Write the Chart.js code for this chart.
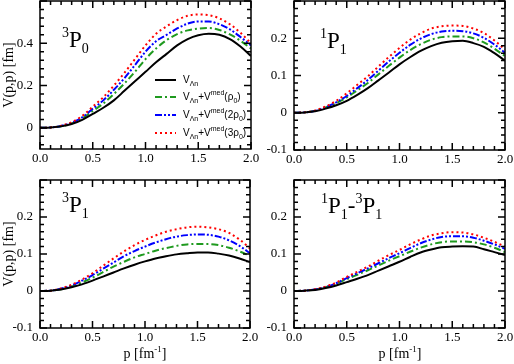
<!DOCTYPE html>
<html>
<head>
<meta charset="utf-8">
<script src="https://cdn.jsdelivr.net/npm/chart.js@4.4.1/dist/chart.umd.min.js"></script>
<style>
  body { margin: 0; background: #fff; }
  #wrap { position: relative; width: 514px; height: 364px; }
  #wrap canvas { position: absolute; left: 0; top: 0; }
</style>
</head>
<body>
<div id="wrap">
  <canvas id="c30" width="514" height="364"></canvas>
  <canvas id="c11" width="514" height="364"></canvas>
  <canvas id="c31" width="514" height="364"></canvas>
  <canvas id="c13" width="514" height="364"></canvas>
</div>
<script>
// momentum grid p [fm^-1]
const P = [0, 0.1, 0.2, 0.3, 0.4, 0.5, 0.6, 0.7, 0.8, 0.9, 1.0, 1.1, 1.2, 1.3, 1.4, 1.5, 1.6, 1.7, 1.8, 1.9, 2.0];
const X_TICKS = [0, 0.5, 1.0, 1.5, 2.0];

// 3P0
const P30_free = [0, 0.002, 0.007, 0.018, 0.038, 0.066, 0.095, 0.13, 0.175, 0.22, 0.265, 0.31, 0.35, 0.39, 0.42, 0.438, 0.445, 0.44, 0.42, 0.385, 0.34];
const P30_rho1 = [0, 0.002, 0.008, 0.021, 0.045, 0.08, 0.115, 0.16, 0.21, 0.265, 0.325, 0.375, 0.415, 0.443, 0.461, 0.469, 0.472, 0.463, 0.442, 0.412, 0.375];
const P30_rho2 = [0, 0.002, 0.009, 0.024, 0.05, 0.09, 0.13, 0.18, 0.235, 0.297, 0.36, 0.41, 0.44, 0.47, 0.493, 0.503, 0.503, 0.49, 0.466, 0.43, 0.39];
const P30_rho3 = [0, 0.002, 0.01, 0.027, 0.056, 0.1, 0.145, 0.2, 0.26, 0.325, 0.39, 0.445, 0.48, 0.51, 0.53, 0.536, 0.533, 0.518, 0.49, 0.45, 0.40];
const Y_TICKS_30 = [0, 0.2, 0.4];

// 1P1
const P11_free = [0, 0.001, 0.004, 0.011, 0.02, 0.032, 0.048, 0.066, 0.087, 0.108, 0.13, 0.149, 0.166, 0.179, 0.188, 0.192, 0.193, 0.187, 0.177, 0.16, 0.14];
const P11_rho1 = [0, 0.001, 0.005, 0.014, 0.026, 0.041, 0.06, 0.08, 0.103, 0.126, 0.148, 0.168, 0.184, 0.196, 0.203, 0.205, 0.205, 0.2, 0.189, 0.172, 0.152];
const P11_rho2 = [0, 0.001, 0.005, 0.015, 0.028, 0.045, 0.066, 0.088, 0.113, 0.138, 0.161, 0.182, 0.199, 0.211, 0.218, 0.22, 0.219, 0.213, 0.201, 0.183, 0.161];
const P11_rho3 = [0, 0.001, 0.006, 0.017, 0.032, 0.052, 0.075, 0.098, 0.124, 0.15, 0.174, 0.196, 0.213, 0.226, 0.232, 0.234, 0.233, 0.226, 0.214, 0.194, 0.17];
const Y_TICKS_11 = [-0.1, 0, 0.1, 0.2];

// 3P1
const P31_free = [0, 0.001, 0.004, 0.01, 0.018, 0.028, 0.039, 0.05, 0.061, 0.071, 0.08, 0.088, 0.094, 0.099, 0.102, 0.104, 0.104, 0.101, 0.096, 0.088, 0.078];
const P31_rho1 = [0, 0.001, 0.005, 0.012, 0.023, 0.036, 0.051, 0.066, 0.079, 0.091, 0.1, 0.109, 0.116, 0.122, 0.126, 0.127, 0.127, 0.124, 0.117, 0.107, 0.095];
const P31_rho2 = [0, 0.001, 0.006, 0.015, 0.028, 0.043, 0.06, 0.077, 0.094, 0.108, 0.12, 0.131, 0.14, 0.147, 0.151, 0.153, 0.152, 0.147, 0.137, 0.122, 0.102];
const P31_rho3 = [0, 0.001, 0.007, 0.017, 0.031, 0.048, 0.068, 0.088, 0.107, 0.124, 0.138, 0.15, 0.16, 0.167, 0.172, 0.174, 0.172, 0.167, 0.157, 0.139, 0.115];
const Y_TICKS_31 = [-0.1, 0, 0.1, 0.2];

// 1P1-3P1
const P13_free = [0, 0.001, 0.003, 0.008, 0.015, 0.024, 0.033, 0.043, 0.055, 0.067, 0.079, 0.092, 0.104, 0.112, 0.118, 0.12, 0.121, 0.12, 0.113, 0.105, 0.097];
const P13_rho1 = [0, 0.001, 0.004, 0.01, 0.02, 0.032, 0.044, 0.056, 0.069, 0.082, 0.094, 0.106, 0.117, 0.126, 0.132, 0.134, 0.134, 0.132, 0.126, 0.117, 0.105];
const P13_rho2 = [0, 0.001, 0.004, 0.011, 0.021, 0.035, 0.048, 0.061, 0.075, 0.089, 0.102, 0.116, 0.129, 0.139, 0.146, 0.148, 0.148, 0.144, 0.136, 0.126, 0.114];
const P13_rho3 = [0, 0.001, 0.005, 0.012, 0.023, 0.038, 0.052, 0.066, 0.082, 0.097, 0.111, 0.126, 0.139, 0.15, 0.156, 0.159, 0.158, 0.153, 0.144, 0.133, 0.12];
const Y_TICKS_13 = [-0.1, 0, 0.1, 0.2];

// legend entries (text, kind)
const LEGEND = [
  [["V", "n"], ["Λn", "sub"]],
  [["V", "n"], ["Λn", "sub"], ["+V", "n"], ["med", "sup"], ["(ρ", "n"], ["0", "sub"], [")", "n"]],
  [["V", "n"], ["Λn", "sub"], ["+V", "n"], ["med", "sup"], ["(2ρ", "n"], ["0", "sub"], [")", "n"]],
  [["V", "n"], ["Λn", "sub"], ["+V", "n"], ["med", "sup"], ["(3ρ", "n"], ["0", "sub"], [")", "n"]],
];

// line styles: free, rho0, 2rho0, 3rho0
const STYLES = [
  { color: "#000000", dash: [] },
  { color: "#1f9a1f", dash: [7, 3, 2, 3] },
  { color: "#0000ff", dash: [7, 2, 2, 2, 2, 2] },
  { color: "#ff0000", dash: [2, 3] },
];

const SERIF = "'Liberation Serif', 'DejaVu Serif', serif";
const SANS = "'Liberation Sans', Arial, sans-serif";

// draw text with sub/superscripts
function drawRich(ctx, x, y, parts, f) {
  parts.forEach(([text, kind]) => {
    const size = kind === "n" ? f.size : f.small;
    const dy = kind === "sub" ? f.sub : kind === "sup" ? f.sup : 0;
    ctx.font = `${size}px ${f.family}`;
    ctx.fillText(text, x, y + dy);
    x += ctx.measureText(text).width;
  });
  return x;
}

const panels = [
  {
    id: "c30", area: [40, 1, 251, 149], yMin: -0.1, yMax: 0.6, yMinor: 0.04, yEvery: 5,
    yTicks: Y_TICKS_30, series: [P30_free, P30_rho1, P30_rho2, P30_rho3],
    name: [["3", "sup"], ["P", "n"], ["0", "sub"]], namePos: [62, 47],
    legend: true, yTitle: 75,
  },
  {
    id: "c11", area: [294, 1, 505, 150], yMin: -0.1, yMax: 0.3, yMinor: 0.02, yEvery: 5,
    yTicks: Y_TICKS_11, series: [P11_free, P11_rho1, P11_rho2, P11_rho3],
    name: [["1", "sup"], ["P", "n"], ["1", "sub"]], namePos: [320, 48],
  },
  {
    id: "c31", area: [40, 180, 250, 328], yMin: -0.1, yMax: 0.3, yMinor: 0.02, yEvery: 5,
    yTicks: Y_TICKS_31, series: [P31_free, P31_rho1, P31_rho2, P31_rho3],
    name: [["3", "sup"], ["P", "n"], ["1", "sub"]], namePos: [62, 212],
    yTitle: 254, xTitle: 145,
  },
  {
    id: "c13", area: [294, 180, 505, 328], yMin: -0.1, yMax: 0.3, yMinor: 0.02, yEvery: 5,
    yTicks: Y_TICKS_13, series: [P13_free, P13_rho1, P13_rho2, P13_rho3],
    name: [["1", "sup"], ["P", "n"], ["1", "sub"], ["-", "n"], ["3", "sup"], ["P", "n"], ["1", "sub"]],
    namePos: [321, 213], xTitle: 400,
  },
];

function decorPlugin(pn) {
  return {
    id: "decor",
    afterDraw(chart) {
      const ctx = chart.ctx;
      const xs = chart.scales.x;
      const ys = chart.scales.y;
      const a = chart.chartArea;
      ctx.save();

      // frame + inward ticks on all sides
      ctx.strokeStyle = "#000";
      ctx.lineWidth = 1.5;
      ctx.strokeRect(a.left, a.top, a.right - a.left, a.bottom - a.top);
      ctx.beginPath();
      for (let k = 0; k <= 20; k++) {
        const x = xs.getPixelForValue(k * 0.1);
        const len = k % 5 === 0 ? 7 : 4;
        ctx.moveTo(x, a.bottom); ctx.lineTo(x, a.bottom - len);
        ctx.moveTo(x, a.top); ctx.lineTo(x, a.top + len);
      }
      const k0 = Math.ceil(pn.yMin / pn.yMinor - 1e-6);
      const k1 = Math.floor(pn.yMax / pn.yMinor + 1e-6);
      for (let k = k0; k <= k1; k++) {
        const y = ys.getPixelForValue(k * pn.yMinor);
        const len = k % pn.yEvery === 0 ? 7 : 4;
        ctx.moveTo(a.left, y); ctx.lineTo(a.left + len, y);
        ctx.moveTo(a.right, y); ctx.lineTo(a.right - len, y);
      }
      ctx.stroke();

      // partial wave label
      ctx.fillStyle = "#000";
      ctx.textAlign = "left";
      ctx.textBaseline = "alphabetic";
      drawRich(ctx, pn.namePos[0], pn.namePos[1], pn.name,
        { family: SERIF, size: 23, small: 14, sub: 6, sup: -10 });

      // axis titles
      if (pn.yTitle) {
        ctx.save();
        ctx.translate(13, pn.yTitle);
        ctx.rotate(-Math.PI / 2);
        ctx.font = `14px ${SERIF}`;
        ctx.textAlign = "center";
        ctx.fillText("V(p,p) [fm]", 0, 0);
        ctx.restore();
      }
      if (pn.xTitle) {
        const parts = [["p [fm", "n"], ["-1", "sup"], ["]", "n"]];
        const f = { family: SERIF, size: 14, small: 9, sub: 0, sup: -6 };
        let w = 0;
        parts.forEach(([t, k]) => { ctx.font = `${k === "n" ? f.size : f.small}px ${SERIF}`; w += ctx.measureText(t).width; });
        drawRich(ctx, pn.xTitle - w / 2, 358, parts, f);
      }

      // legend
      if (pn.legend) {
        const rows = [80, 97, 115, 133];
        rows.forEach((ry, i) => {
          ctx.strokeStyle = STYLES[i].color;
          ctx.lineWidth = 2;
          ctx.setLineDash(STYLES[i].dash);
          ctx.beginPath();
          ctx.moveTo(155, ry); ctx.lineTo(176, ry);
          ctx.stroke();
          ctx.setLineDash([]);
          ctx.fillStyle = "#000";
          drawRich(ctx, 183, ry + 3, LEGEND[i], { family: SANS, size: 10, small: 7, sub: 3, sup: -5 });
        });
      }
      ctx.restore();
    },
  };
}

panels.forEach((pn) => {
  const a = pn.area;
  const datasets = pn.series.map((vals, i) => ({
    data: P.map((p, j) => ({ x: p, y: vals[j] })),
    borderColor: STYLES[i].color,
    borderDash: STYLES[i].dash,
    borderWidth: 2,
    pointRadius: 0,
    fill: false,
    cubicInterpolationMode: "monotone",
    order: i === 0 ? 0 : 4 - i,
  }));
  const tickFont = { family: SERIF, size: 13 };
  new Chart(document.getElementById(pn.id), {
    type: "line",
    data: { datasets },
    options: {
      responsive: false,
      animation: false,
      devicePixelRatio: 1,
      layout: { padding: { left: 0, top: a[1], right: 514 - a[2], bottom: 0 } },
      plugins: { legend: { display: false }, tooltip: { enabled: false } },
      scales: {
        x: {
          type: "linear", min: 0, max: 2,
          grid: { display: false, drawTicks: false },
          border: { display: false },
          afterBuildTicks: (s) => { s.ticks = X_TICKS.map((v) => ({ value: v })); },
          afterFit: (s) => { s.height = 364 - a[3]; s.paddingLeft = 0; s.paddingRight = 0; },
          ticks: { padding: 2, color: "#000", font: tickFont, maxRotation: 0, autoSkip: false,
                   callback: (v) => v.toFixed(1) },
        },
        y: {
          type: "linear", min: pn.yMin, max: pn.yMax,
          grid: { display: false, drawTicks: false },
          border: { display: false },
          afterBuildTicks: (s) => { s.ticks = pn.yTicks.map((v) => ({ value: v })); },
          afterFit: (s) => { s.width = a[0]; s.paddingTop = 0; s.paddingBottom = 0; },
          ticks: { padding: 7, color: "#000", font: tickFont, autoSkip: false,
                   callback: (v) => (v === 0 ? "0" : String(v)) },
        },
      },
    },
    plugins: [decorPlugin(pn)],
  });
});
</script>
</body>
</html>
